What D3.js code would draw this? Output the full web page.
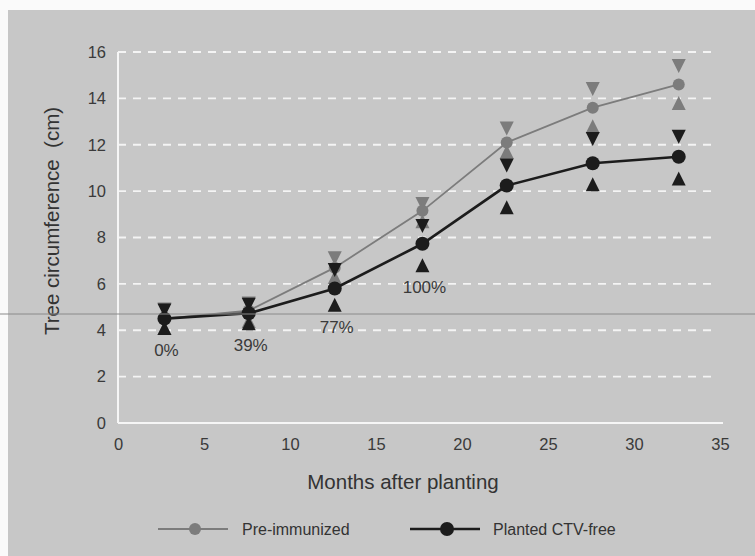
<!DOCTYPE html>
<html>
<head>
<meta charset="utf-8">
<script src="https://cdn.jsdelivr.net/npm/d3@7"></script>
<style>
  body { margin: 0; background: #fafafa; }
  svg { display: block; font-family: "Liberation Sans", Arial, sans-serif; }
</style>
</head>
<body>
<div id="chart"></div>
<script>
// months after planting
const months = [2.7, 7.6, 12.6, 17.7, 22.6, 27.6, 32.6]
// pre-immunized trees (grey)
const preImm = [4.5, 4.85, 6.7, 9.15, 12.1, 13.6, 14.6]
const preImmHi = [4.9, 5.15, 7.1, 9.45, 12.7, 14.4, 15.4]
const preImmLo = [4.1, 4.4, 6.3, 8.7, 11.7, 12.8, 13.8]
// planted CTV-free (black)
const ctvFree = [4.5, 4.73, 5.8, 7.73, 10.24, 11.2, 11.48]
const ctvFreeHi = [4.85, 5.1, 6.6, 8.5, 11.1, 12.25, 12.34]
const ctvFreeLo = [4.1, 4.3, 5.1, 6.8, 9.3, 10.3, 10.54]
// CTV incidence labels, first four dates
const incidence = ["0%", "39%", "77%", "100%"]
const yTicks = [0, 2, 4, 6, 8, 10, 12, 14, 16]
const xTicks = [0, 5, 10, 15, 20, 25, 30, 35]

let width = 755, height = 556
let margin = { top: 52, right: 35, bottom: 133, left: 118 }

let svg = d3.select("#chart").append("svg")
    .attr("width", width)
    .attr("height", height)

// scanned page background
svg.append("rect").attr("x", 8).attr("y", 10)
    .attr("width", width - 8).attr("height", height - 10)
    .attr("fill", "#c7c7c7")

let x = d3.scaleLinear().domain([0, 35]).range([margin.left, 720])
let y = d3.scaleLinear().domain([0, 16]).range([423, 52])

// dashed white grid
svg.selectAll(".grid")
    .data(yTicks.filter(d => d > 0))
    .enter()
    .append("line")
    .attr("class", "grid")
    .attr("x1", x(0)).attr("x2", 715)
    .attr("y1", d => y(d)).attr("y2", d => y(d))
    .attr("stroke", "#f4f4f4")
    .attr("stroke-width", 1.8)
    .attr("stroke-dasharray", "8,7")

// axes lines
svg.append("line").attr("x1", x(0)).attr("x2", x(0)).attr("y1", y(0)).attr("y2", y(16))
    .attr("stroke", "#f6f6f6").attr("stroke-width", 2)
svg.append("line").attr("x1", x(0)).attr("x2", 723).attr("y1", y(0)).attr("y2", y(0))
    .attr("stroke", "#f6f6f6").attr("stroke-width", 2)

// tick labels
let yAxis = svg.append("g")
    .attr("transform", "translate(" + (x(0) - 9) + ",0)")
    .call(d3.axisLeft(y).tickValues(yTicks).tickSize(0))
yAxis.select(".domain").remove()
yAxis.selectAll("text").attr("fill", "#3a3a3a").style("font-size", "16.5px")

let xAxis = svg.append("g")
    .attr("transform", "translate(0," + (y(0) + 12) + ")")
    .call(d3.axisBottom(x).tickValues(xTicks).tickSize(0))
xAxis.select(".domain").remove()
xAxis.selectAll("text").attr("fill", "#3a3a3a").style("font-size", "16.5px")

// axis titles
svg.append("text")
    .attr("transform", "translate(52,221) rotate(-90)")
    .attr("text-anchor", "middle")
    .attr("dy", "0.35em")
    .attr("fill", "#333")
    .style("font-size", "20.5px")
    .style("white-space", "pre")
    .text("Tree circumference  (cm)")

svg.append("text")
    .attr("x", 403).attr("y", 482)
    .attr("text-anchor", "middle")
    .attr("dy", "0.35em")
    .attr("fill", "#333")
    .style("font-size", "20.5px")
    .text("Months after planting")

let series = [
    { name: "Pre-immunized", vals: preImm, hi: preImmHi, lo: preImmLo, color: "#7c7c7c", lw: 1.8, r: 6 },
    { name: "Planted CTV-free", vals: ctvFree, hi: ctvFreeHi, lo: ctvFreeLo, color: "#1c1c1c", lw: 2.6, r: 7 }
]

let tw = 7, th = 7
function downTri(cx, cy) {
    return "M" + (cx - tw) + "," + (cy - th) + " L" + (cx + tw) + "," + (cy - th) +
        " L" + cx + "," + (cy + th) + " Z"
}
function upTri(cx, cy) {
    return "M" + (cx - tw) + "," + (cy + th) + " L" + (cx + tw) + "," + (cy + th) +
        " L" + cx + "," + (cy - th) + " Z"
}

let line = d3.line().x((d, i) => x(months[i])).y(d => y(d))

series.forEach(function (s) {
    let g = svg.append("g")
    g.append("path")
        .attr("d", line(s.vals))
        .attr("fill", "none")
        .attr("stroke", s.color)
        .attr("stroke-width", s.lw)
    g.selectAll(".hi")
        .data(s.hi)
        .enter()
        .append("path")
        .attr("d", (d, i) => downTri(x(months[i]), y(d)))
        .attr("fill", s.color)
    g.selectAll(".lo")
        .data(s.lo)
        .enter()
        .append("path")
        .attr("d", (d, i) => upTri(x(months[i]), y(d)))
        .attr("fill", s.color)
    g.selectAll("circle")
        .data(s.vals)
        .enter()
        .append("circle")
        .attr("cx", (d, i) => x(months[i]))
        .attr("cy", d => y(d))
        .attr("r", s.r)
        .attr("fill", s.color)
})

// incidence labels under the CTV-free points
svg.selectAll(".incid")
    .data(incidence)
    .enter()
    .append("text")
    .attr("class", "incid")
    .attr("x", (d, i) => x(months[i]) + 2)
    .attr("y", (d, i) => y(ctvFreeLo[i]) + 22)
    .attr("dy", "0.35em")
    .attr("text-anchor", "middle")
    .attr("fill", "#3a3a3a")
    .style("font-size", "17px")
    .text(d => d)

// legend
let legend = svg.selectAll(".legend")
    .data(series)
    .enter()
    .append("g")
    .attr("class", "legend")
    .attr("transform", (d, i) => "translate(" + (158 + i * 252) + ",529)")
legend.append("line")
    .attr("x1", 0).attr("x2", 70)
    .attr("stroke", d => d.color)
    .attr("stroke-width", d => d.lw)
legend.append("circle")
    .attr("cx", 37).attr("r", d => d.r)
    .attr("fill", d => d.color)
legend.append("text")
    .attr("x", (d, i) => i === 0 ? 84 : 83)
    .attr("dy", "0.35em")
    .attr("fill", "#333")
    .style("font-size", "16px")
    .text(d => d.name)

// scan crease across the page
svg.append("line")
    .attr("x1", 0).attr("x2", width)
    .attr("y1", 314).attr("y2", 314)
    .attr("stroke", "#8a8a8a")
    .attr("stroke-width", 1)
</script>
</body>
</html>
